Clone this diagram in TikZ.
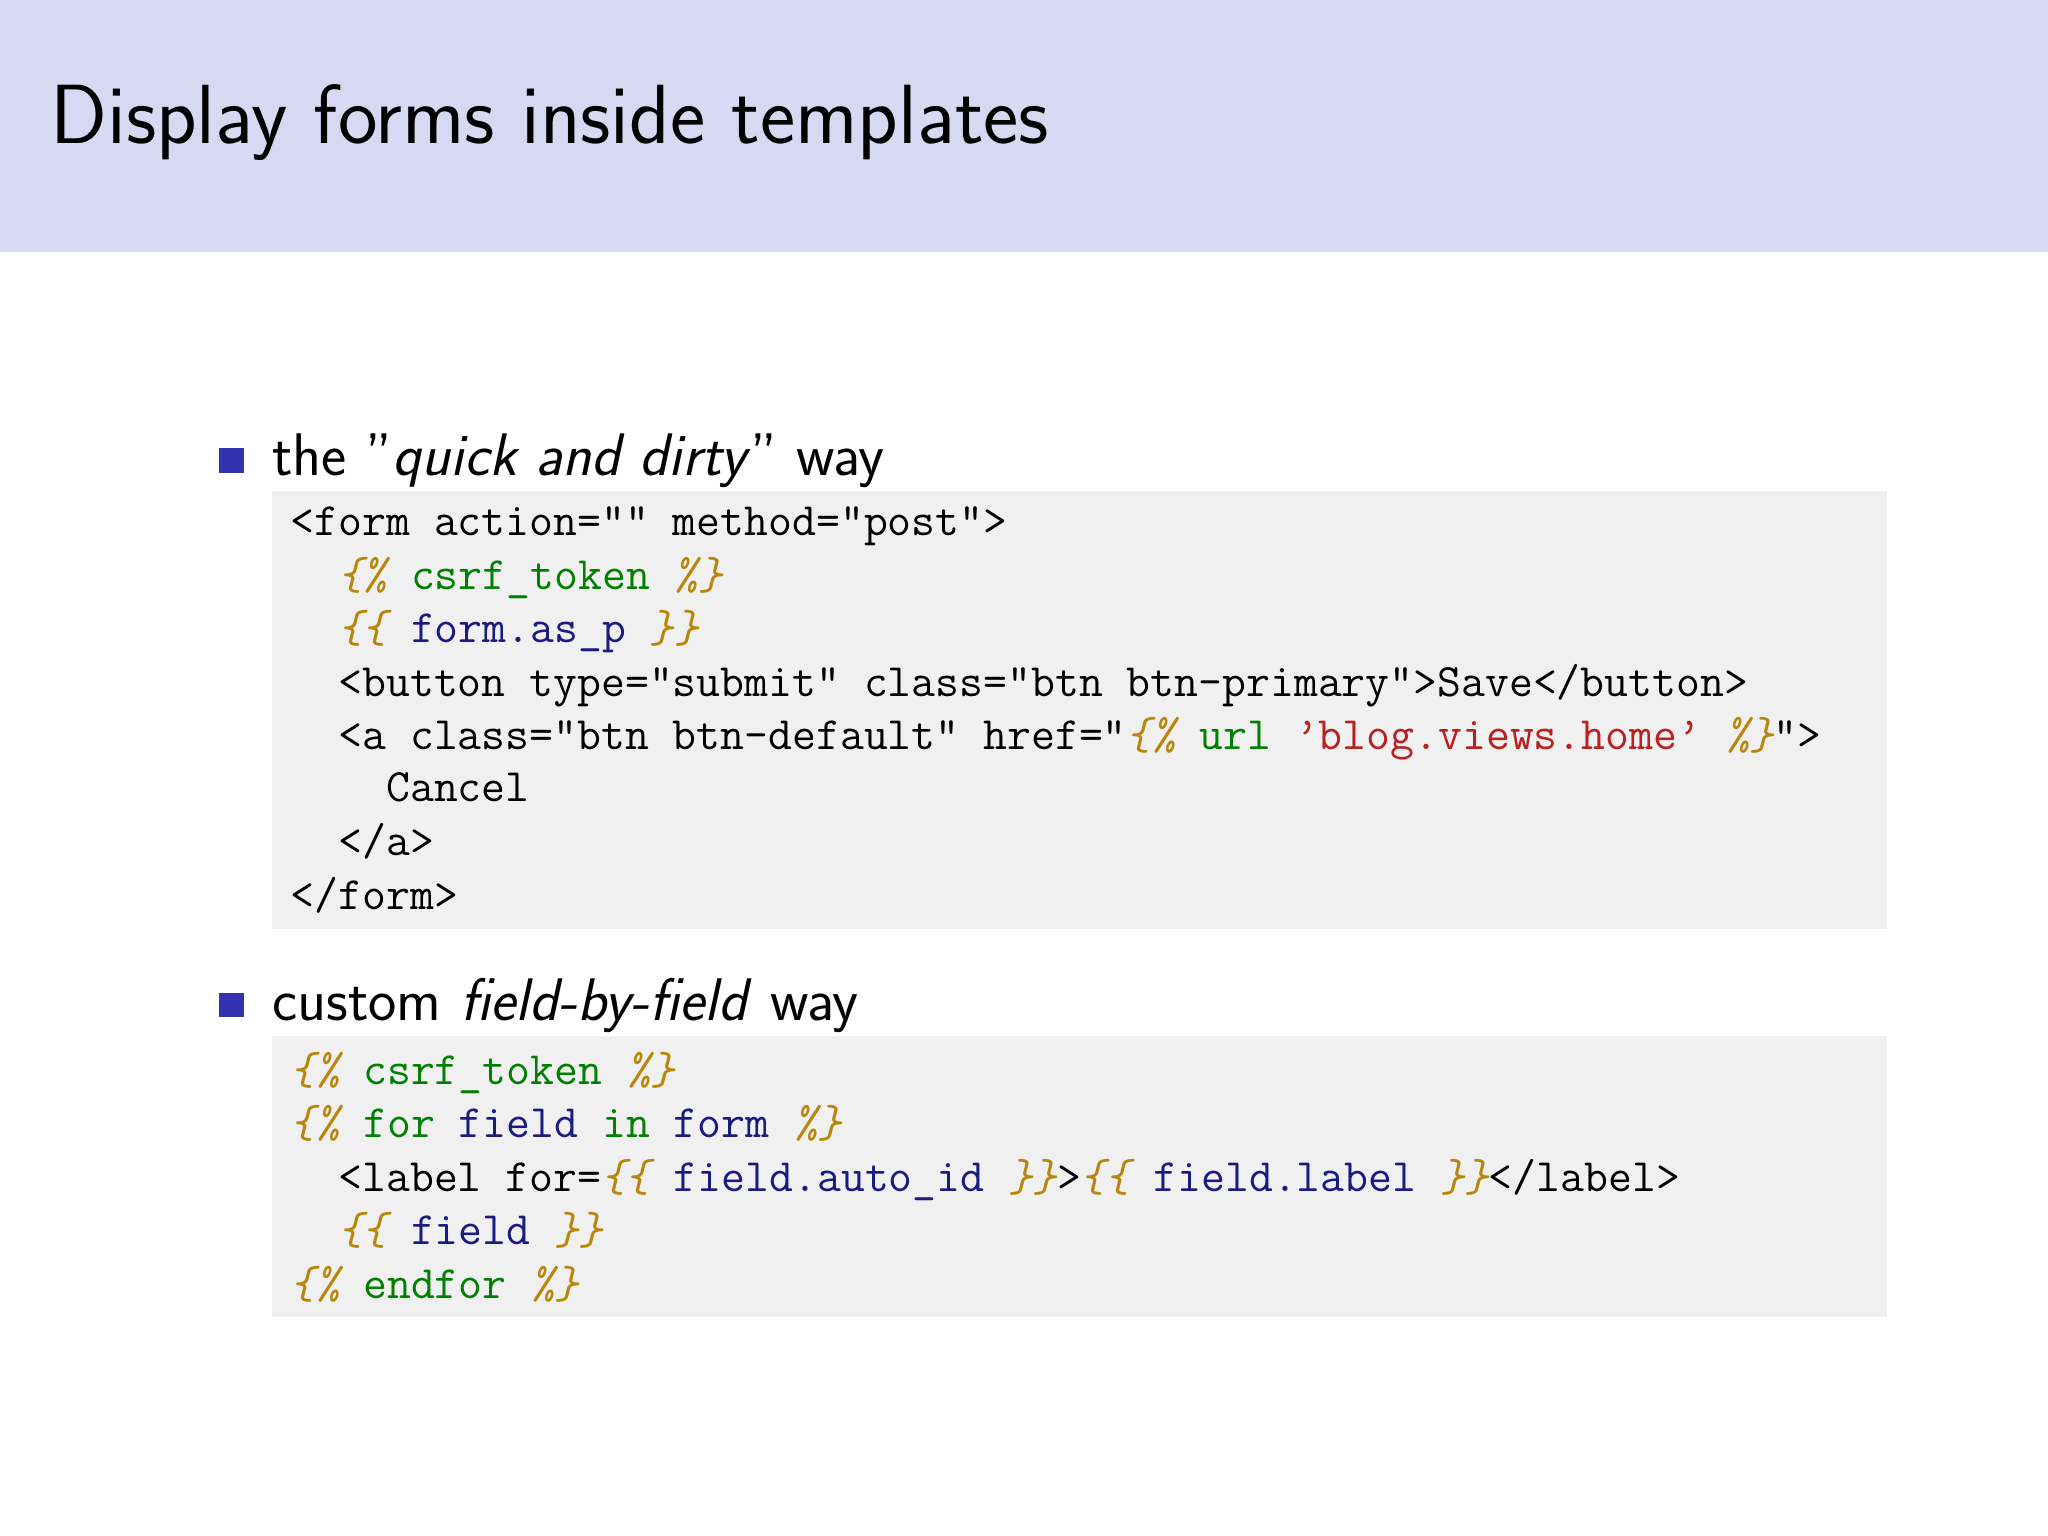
\documentclass[tikz,border=0pt]{standalone}
\usepackage{xcolor}
\definecolor{hdr}{HTML}{D9D8F2}
\definecolor{codebg}{HTML}{F0F0F0}
\definecolor{bul}{HTML}{3333B2}
\definecolor{kgold}{HTML}{B8860B}
\definecolor{kgreen}{HTML}{008000}
\definecolor{knavy}{HTML}{1A1A80}
\definecolor{kred}{HTML}{BA2121}
\newcommand\cK[1]{{\color{kgold}\itshape #1}}
\newcommand\cG[1]{{\color{kgreen}#1}}
\newcommand\cB[1]{{\color{knavy}#1}}
\newcommand\cR[1]{{\color{kred}#1}}
\begin{document}
\begin{tikzpicture}[x=0.013061cm,y=-0.013061cm,
  code/.style={anchor=base west,inner sep=0,font=\ttfamily\fontsize{13.2}{15}\selectfont},
  bodytxt/.style={anchor=base west,inner sep=0,font=\sffamily\fontsize{17.1}{21}\selectfont},
  cbox/.style={fill=codebg,draw=none}]
\useasboundingbox (0,0) rectangle (1568,1176);
\fill[white] (0,0) rectangle (1568,1176);
\fill[hdr] (0,0) rectangle (1568,193);
\node[anchor=base west,inner sep=0,font=\sffamily\fontsize{23.9}{28}\selectfont] (title) at (38,110) {Display forms inside templates};
% bullet 1
\fill[bul] (168,343) rectangle (187,362);
\node[bodytxt] (b1) at (208,364) {the ”\textit{quick and dirty}” way};
\fill[cbox] (208,376) rectangle (1445,711);
\node[code] (a1) at (222,410) {<form\ action=""\ method="post">};
\node[code] (a2) at (222,451) {\ \ \cK{\{\%}\ \cG{csrf\_token}\ \cK{\%\}}};
\node[code] (a3) at (222,492) {\ \ \cK{\{\{}\ \cB{form.as\_p}\ \cK{\}\}}};
\node[code] (a4) at (222,533) {\ \ <button\ type="submit"\ class="btn\ btn-primary">Save</button>};
\node[code] (a5) at (222,574) {\ \ <a\ class="btn\ btn-default"\ href="\cK{\{\%}\ \cG{url}\ \cR{’blog.views.home’}\ \cK{\%\}}">};
\node[code] (a6) at (222,614) {\ \ \ \ Cancel};
\node[code] (a7) at (222,655) {\ \ </a>};
\node[code] (a8) at (222,696) {</form>};
% bullet 2
\fill[bul] (168,760) rectangle (187,779);
\node[bodytxt] (b2) at (208,781) {custom \textit{field-by-field} way};
\fill[cbox] (208,793) rectangle (1445,1008);
\node[code] (c1) at (222,830) {\cK{\{\%}\ \cG{csrf\_token}\ \cK{\%\}}};
\node[code] (c2) at (222,871) {\cK{\{\%}\ \cG{for}\ \cB{field}\ \cG{in}\ \cB{form}\ \cK{\%\}}};
\node[code] (c3) at (222,912) {\ \ <label\ for=\cK{\{\{}\ \cB{field.auto\_id}\ \cK{\}\}}>\cK{\{\{}\ \cB{field.label}\ \cK{\}\}}</label>};
\node[code] (c4) at (222,953) {\ \ \cK{\{\{}\ \cB{field}\ \cK{\}\}}};
\node[code] (c5) at (222,994) {\cK{\{\%}\ \cG{endfor}\ \cK{\%\}}};
\end{tikzpicture}
\end{document}
